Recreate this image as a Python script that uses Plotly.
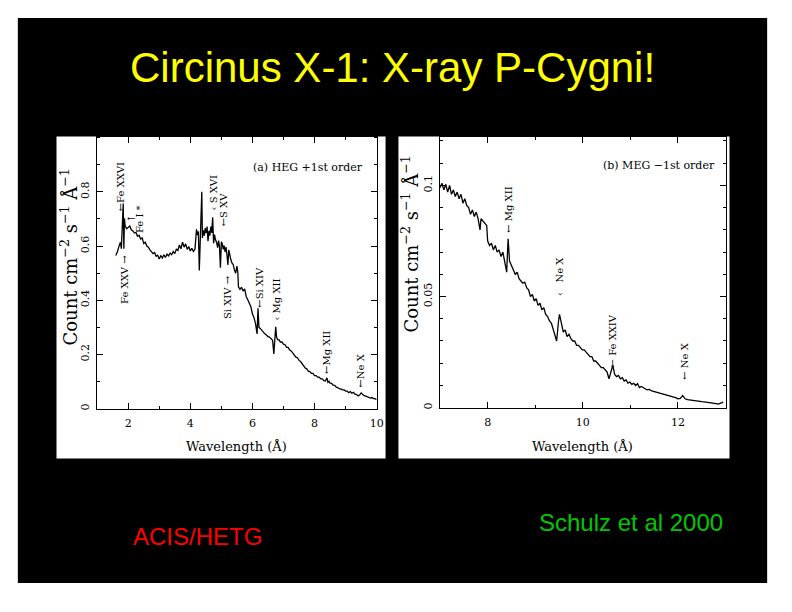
import plotly.graph_objects as go

# ---------------- data ----------------
heg_wl = [1.60, 1.65, 1.70, 1.75, 1.78, 1.80, 1.82, 1.84, 1.86, 1.88, 1.90, 1.95,
          2.00, 2.05, 2.10, 2.15, 2.20, 2.25, 2.30, 2.35, 2.40, 2.45, 2.50, 2.55,
          2.60, 2.65, 2.70, 2.75, 2.80, 2.85, 2.90, 2.95, 3.00, 3.05, 3.10, 3.15,
          3.20, 3.25, 3.30, 3.35, 3.40, 3.45, 3.50, 3.55, 3.60, 3.65, 3.70, 3.75,
          3.80, 3.85, 3.90, 3.95, 4.00, 4.05, 4.10, 4.15, 4.20, 4.23, 4.26, 4.29,
          4.32, 4.35, 4.37, 4.39, 4.42, 4.45, 4.48, 4.51, 4.54, 4.57, 4.60, 4.63,
          4.66, 4.69, 4.72, 4.75, 4.78, 4.81, 4.85, 4.88, 4.91, 4.94, 4.97, 5.00,
          5.03, 5.06, 5.09, 5.12, 5.15, 5.18, 5.21, 5.24, 5.27, 5.30, 5.34, 5.38,
          5.42, 5.46, 5.50, 5.53, 5.55, 5.60, 5.65, 5.70, 5.75, 5.80, 5.85, 5.90,
          5.95, 6.00, 6.05, 6.10, 6.13, 6.15, 6.18, 6.21, 6.25, 6.30, 6.35, 6.40,
          6.45, 6.50, 6.55, 6.60, 6.65, 6.69, 6.72, 6.75, 6.78, 6.82, 6.86, 6.90,
          6.95, 7.00, 7.05, 7.10, 7.15, 7.20, 7.25, 7.30, 7.35, 7.40, 7.45, 7.50,
          7.55, 7.60, 7.65, 7.70, 7.75, 7.80, 7.85, 7.90, 7.95, 8.00, 8.05, 8.10,
          8.15, 8.20, 8.25, 8.30, 8.35, 8.40, 8.43, 8.47, 8.50, 8.55, 8.60, 8.65,
          8.70, 8.75, 8.80, 8.85, 8.90, 8.95, 9.00, 9.05, 9.10, 9.15, 9.20, 9.25,
          9.30, 9.35, 9.40, 9.45, 9.50, 9.55, 9.60, 9.65, 9.70, 9.75, 9.80, 9.85,
          9.90, 9.95, 10.00]
heg_flux = [0.565, 0.578, 0.598, 0.614, 0.590, 0.642, 0.700, 0.757, 0.590, 0.702, 0.676, 0.664,
            0.668, 0.674, 0.660, 0.656, 0.648, 0.650, 0.636, 0.640, 0.626, 0.630, 0.610, 0.614,
            0.600, 0.596, 0.586, 0.580, 0.572, 0.576, 0.562, 0.566, 0.552, 0.564, 0.556, 0.568,
            0.558, 0.570, 0.564, 0.574, 0.568, 0.580, 0.572, 0.588, 0.584, 0.604, 0.590, 0.614,
            0.596, 0.608, 0.588, 0.598, 0.582, 0.592, 0.580, 0.588, 0.662, 0.640, 0.654, 0.510,
            0.622, 0.664, 0.800, 0.630, 0.658, 0.638, 0.666, 0.648, 0.672, 0.618, 0.656, 0.638,
            0.672, 0.648, 0.706, 0.610, 0.642, 0.624, 0.612, 0.594, 0.620, 0.598, 0.520, 0.616,
            0.608, 0.588, 0.602, 0.578, 0.596, 0.568, 0.530, 0.586, 0.558, 0.552, 0.538, 0.532,
            0.512, 0.500, 0.526, 0.504, 0.450, 0.440, 0.448, 0.434, 0.442, 0.414, 0.402, 0.390,
            0.376, 0.350, 0.336, 0.314, 0.292, 0.276, 0.370, 0.300, 0.296, 0.288, 0.284, 0.276,
            0.272, 0.266, 0.264, 0.256, 0.252, 0.202, 0.246, 0.302, 0.262, 0.254, 0.254, 0.246,
            0.246, 0.238, 0.236, 0.226, 0.226, 0.216, 0.213, 0.204, 0.200, 0.190, 0.188, 0.178,
            0.174, 0.166, 0.162, 0.150, 0.147, 0.138, 0.137, 0.130, 0.130, 0.122, 0.122, 0.116,
            0.116, 0.110, 0.110, 0.103, 0.102, 0.114, 0.097, 0.101, 0.094, 0.093, 0.087, 0.086,
            0.079, 0.078, 0.073, 0.073, 0.069, 0.069, 0.065, 0.065, 0.059, 0.063, 0.057, 0.060,
            0.054, 0.053, 0.047, 0.050, 0.058, 0.051, 0.048, 0.046, 0.044, 0.043, 0.039, 0.041,
            0.037, 0.037, 0.033]

meg_wl = [7.00, 7.04, 7.08, 7.12, 7.16, 7.20, 7.24, 7.28, 7.32, 7.36, 7.40, 7.44,
          7.48, 7.52, 7.56, 7.60, 7.64, 7.68, 7.72, 7.76, 7.80, 7.84, 7.86, 7.90,
          7.94, 7.98, 8.00, 8.04, 8.08, 8.12, 8.16, 8.20, 8.24, 8.28, 8.32, 8.36,
          8.40, 8.43, 8.46, 8.50, 8.54, 8.58, 8.62, 8.66, 8.70, 8.74, 8.78, 8.82,
          8.86, 8.90, 8.94, 8.98, 9.02, 9.06, 9.10, 9.14, 9.18, 9.22, 9.26, 9.30,
          9.34, 9.38, 9.42, 9.45, 9.49, 9.51, 9.55, 9.59, 9.63, 9.67, 9.71, 9.75,
          9.79, 9.83, 9.87, 9.91, 9.95, 9.99, 10.03, 10.07, 10.11, 10.15, 10.19, 10.23,
          10.27, 10.31, 10.35, 10.39, 10.43, 10.47, 10.51, 10.55, 10.59, 10.63, 10.67, 10.71,
          10.75, 10.79, 10.83, 10.87, 10.91, 10.95, 10.99, 11.03, 11.07, 11.11, 11.15, 11.19,
          11.23, 11.27, 11.31, 11.35, 11.40, 11.45, 11.50, 11.55, 11.60, 11.65, 11.70, 11.75,
          11.80, 11.85, 11.90, 11.95, 12.00, 12.05, 12.10, 12.15, 12.20, 12.25, 12.30, 12.35,
          12.40, 12.45, 12.50, 12.55, 12.60, 12.65, 12.70, 12.75, 12.80, 12.85, 12.90, 12.95]
meg_flux = [0.0990, 0.1010, 0.0980, 0.1005, 0.0970, 0.1000, 0.0960, 0.0980, 0.0950, 0.0970, 0.0940, 0.0960,
            0.0920, 0.0940, 0.0910, 0.0900, 0.0870, 0.0890, 0.0860, 0.0880, 0.0850, 0.0800, 0.0850, 0.0840,
            0.0830, 0.0820, 0.0750, 0.0730, 0.0740, 0.0710, 0.0730, 0.0700, 0.0710, 0.0680, 0.0700, 0.0650,
            0.0610, 0.0760, 0.0660, 0.0640, 0.0620, 0.0600, 0.0610, 0.0580, 0.0570, 0.0560, 0.0565, 0.0540,
            0.0530, 0.0500, 0.0510, 0.0480, 0.0490, 0.0460, 0.0470, 0.0440, 0.0450, 0.0420, 0.0410, 0.0390,
            0.0380, 0.0350, 0.0320, 0.0300, 0.0390, 0.0420, 0.0380, 0.0340, 0.0350, 0.0320, 0.0330, 0.0310,
            0.0300, 0.0300, 0.0280, 0.0280, 0.0270, 0.0260, 0.0260, 0.0250, 0.0240, 0.0230, 0.0230, 0.0210,
            0.0210, 0.0200, 0.0190, 0.0180, 0.0180, 0.0170, 0.0160, 0.0130, 0.0160, 0.0190, 0.0150, 0.0140,
            0.0145, 0.0130, 0.0135, 0.0120, 0.0125, 0.0110, 0.0115, 0.0105, 0.0110, 0.0100, 0.0108, 0.0090,
            0.0095, 0.0088, 0.0085, 0.0080, 0.0082, 0.0075, 0.0072, 0.0070, 0.0068, 0.0064, 0.0062, 0.0060,
            0.0056, 0.0052, 0.0050, 0.0045, 0.0040, 0.0042, 0.0055, 0.0040, 0.0036, 0.0034, 0.0032, 0.0033,
            0.0030, 0.0028, 0.0027, 0.0026, 0.0025, 0.0024, 0.0020, 0.0022, 0.0018, 0.0016, 0.0020, 0.0025]

heg_xticks = [2, 4, 6, 8, 10]
heg_yticks = [0, 0.2, 0.4, 0.6, 0.8]
heg_yticklabels = ["0", "0.2", "0.4", "0.6", "0.8"]
meg_xticks = [8, 10, 12]
meg_yticks = [0, 0.05, 0.1]
meg_yticklabels = ["0", "0.05", "0.1"]

title_text = "Circinus X-1: X-ray P-Cygni!"
ytitle = "Count cm<sup>−2</sup> s<sup>−1</sup> Å<sup>−1</sup>"
xtitle = "Wavelength (Å)"

# ---------------- layout helpers ----------------
W, H = 792, 612
def px(x):
    return x / W
def py(y):
    return 1 - y / H

SERIF = "DejaVu Serif"

fig = go.Figure()
fig.add_trace(go.Scatter(x=heg_wl, y=heg_flux, mode="lines", line=dict(color="black", width=1.3),
                         xaxis="x", yaxis="y", showlegend=False, hoverinfo="skip"))
fig.add_trace(go.Scatter(x=meg_wl, y=meg_flux, mode="lines", line=dict(color="black", width=1.3),
                         xaxis="x2", yaxis="y2", showlegend=False, hoverinfo="skip"))

axis_common = dict(showline=True, linecolor="black", linewidth=1, mirror="ticks", ticks="inside",
                   ticklen=6, tickcolor="black", tickwidth=1, showgrid=False, zeroline=False,
                   tickfont=dict(family=SERIF, size=11, color="black"))

fig.update_layout(
    width=W, height=H, margin=dict(l=0, r=0, t=0, b=0),
    paper_bgcolor="white", plot_bgcolor="white", hovermode=False,
    xaxis=dict(domain=[px(98), px(380)], range=[1, 10], anchor="y", tickvals=heg_xticks,
               minor=dict(ticks="inside", dtick=1, ticklen=3, tickcolor="black"), ticklabelstandoff=4,
               **axis_common),
    yaxis=dict(domain=[py(410), py(137)], range=[0, 1.004], anchor="x", tickvals=heg_yticks,
               ticktext=heg_yticklabels, tickangle=-90,
               minor=dict(ticks="inside", dtick=0.1, ticklen=3, tickcolor="black"), ticklabelstandoff=3,
               **axis_common),
    xaxis2=dict(domain=[px(444), px(732)], range=[7, 13], anchor="y2", tickvals=meg_xticks,
                minor=dict(ticks="inside", dtick=1, ticklen=3, tickcolor="black"), ticklabelstandoff=4,
                **axis_common),
    yaxis2=dict(domain=[py(409), py(137)], range=[0, 0.122], anchor="x2", tickvals=meg_yticks,
                ticktext=meg_yticklabels, tickangle=-90,
                minor=dict(ticks="inside", dtick=0.01, ticklen=3, tickcolor="black"), ticklabelstandoff=3,
                **axis_common),
)

shapes = [
    dict(type="rect", xref="paper", yref="paper", x0=px(18), x1=px(774), y0=py(585), y1=py(18),
         fillcolor="black", line=dict(width=0), layer="below"),
    dict(type="rect", xref="paper", yref="paper", x0=px(57), x1=px(389), y0=py(460), y1=py(137),
         fillcolor="white", line=dict(width=0), layer="below"),
    dict(type="rect", xref="paper", yref="paper", x0=px(402), x1=px(736), y0=py(460), y1=py(137),
         fillcolor="white", line=dict(width=0), layer="below"),
]
fig.update_layout(shapes=shapes)

ann = []
def text(x, y, s, size, color="black", family=SERIF, angle=0, xanchor="center"):
    ann.append(dict(xref="paper", yref="paper", x=px(x), y=py(y), text=s, showarrow=False,
                    font=dict(family=family, size=size, color=color), textangle=angle,
                    xanchor=xanchor, yanchor="middle"))

# slide texts
text(396, 68, title_text, 42, color="#ffff00", family="Liberation Sans")
text(199, 538, "ACIS/HETG", 24, color="#ff0000", family="Liberation Sans")
text(637, 524, "Schulz et al 2000", 24, color="#00c800", family="Liberation Sans")

# axis titles
text(239, 448, xtitle, 13)
text(588, 448, xtitle, 13)
text(70, 258, ytitle, 18, angle=-90)
text(414, 245, ytitle, 18, angle=-90)

# panel labels
text(368, 168, "(a) HEG +1st order", 11, xanchor="right")
text(723, 166, "(b) MEG −1st order", 11, xanchor="right")

# line identifications panel a
text(121, 187, "←Fe XXVI", 10, angle=-90)
text(125, 280, "Fe XXV →", 10, angle=-90)
text(132, 219, "←", 10)
text(141, 220, "Fe I *", 10, angle=-90)
text(215, 193, "‹ S XVI", 10, angle=-90)
text(225, 210, "←S XV", 10, angle=-90)
text(229, 298, "Si XIV →", 10, angle=-90)
text(261, 288, "←Si XIV", 10, angle=-90)
text(278, 301, "‹ Mg XII", 10, angle=-90)
text(330, 354, "←Mg XII", 10, angle=-90)
text(364, 372, "←Ne X", 10, angle=-90)

# line identifications panel b
text(513, 210, "← Mg XII", 10, angle=-90)
text(564, 278, "‹   Ne X", 10, angle=-90)
text(618, 342, "← Fe XXIV", 10, angle=-90)
text(691, 362, "← Ne X", 10, angle=-90)

fig.update_layout(annotations=ann)

# remove the default page margin so the 792x612 figure fills the page exactly
css_fix = ("document.documentElement.style.margin='0';document.documentElement.style.padding='0';"
           "document.body.style.margin='0';document.body.style.padding='0';"
           "document.documentElement.style.overflow='hidden';document.body.style.overflow='hidden';")
fig.write_html("out.html", post_script=css_fix, config={"displayModeBar": False})
